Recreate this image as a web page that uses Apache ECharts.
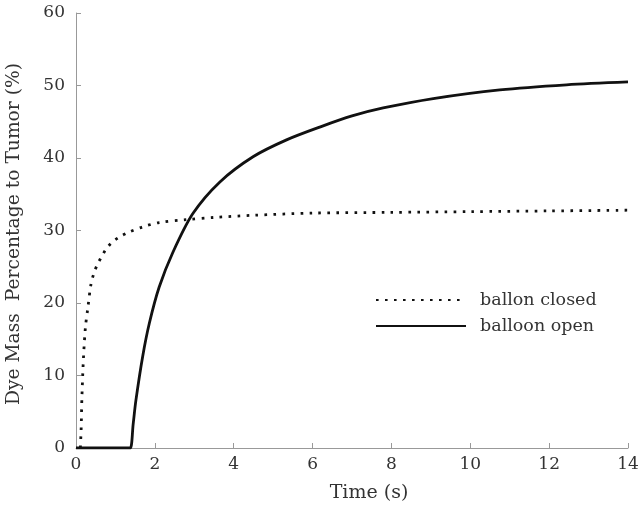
<!DOCTYPE html>
<html><head><meta charset="utf-8">
<script src="https://cdn.jsdelivr.net/npm/echarts@6/dist/echarts.min.js"></script>
<style>html,body{margin:0;padding:0;background:#fff}#c{width:641px;height:512px}</style>
</head><body><div id="c"></div>
<script>
const closedT = [0.11, 0.13, 0.15, 0.19, 0.24, 0.30, 0.38, 0.46, 0.55, 0.63, 0.76, 0.9, 1.1, 1.31, 1.69, 2.11, 2.79, 3.5, 4.5, 6.0, 8.0, 10.0, 12.0, 14.0];
const closedY = [0, 2.5, 7.0, 12.5, 16.7, 19.3, 22.6, 24.2, 25.4, 26.2, 27.4, 28.3, 29.1, 29.7, 30.5, 31.1, 31.5, 31.8, 32.1, 32.4, 32.5, 32.6, 32.7, 32.8];
const openT = [0, 1.3, 1.38, 1.45, 1.52, 1.69, 1.86, 2.11, 2.45, 2.96, 3.65, 4.5, 5.34, 6.2, 7.0, 7.79, 9.06, 10.75, 12.44, 14.0];
const openY = [0, 0, 0, 3.3, 6.6, 12.6, 17.2, 22.2, 26.9, 32.3, 36.7, 40.2, 42.5, 44.3, 45.8, 46.9, 48.2, 49.4, 50.1, 50.5];
const xTicks = [0, 2, 4, 6, 8, 10, 12, 14];
const yTicks = [0, 10, 20, 30, 40, 50, 60];
const seriesNames = ['ballon closed', 'balloon open'];
const xTitle = 'Time (s)';
const yTitle = 'Dye Mass  Percentage to Tumor (%)';

const font = 'DejaVu Serif';
const chart = echarts.init(document.getElementById('c'));
const axisCommon = {
  axisLine: {lineStyle: {color: '#999', width: 1}},
  axisTick: {inside: true, length: 5, lineStyle: {color: '#999'}},
  splitLine: {show: false},
  axisLabel: {color: '#333', fontFamily: font, fontSize: 17}
};
chart.setOption({
  animation: false,
  grid: {left: 76, right: 13, top: 13, bottom: 64, outerBoundsMode: 'none', containLabel: false},
  xAxis: Object.assign({}, axisCommon, {
    type: 'value', min: xTicks[0], max: xTicks[xTicks.length - 1], interval: 2,
    name: xTitle, nameLocation: 'middle', nameGap: 36,
    nameTextStyle: {color: '#333', fontFamily: font, fontSize: 19, padding: [0, 0, 0, 34]},
    axisLabel: Object.assign({}, axisCommon.axisLabel, {margin: 8})
  }),
  yAxis: Object.assign({}, axisCommon, {
    type: 'value', min: yTicks[0], max: yTicks[yTicks.length - 1], interval: 10,
    name: yTitle, nameLocation: 'middle', nameGap: 52,
    nameTextStyle: {color: '#333', fontFamily: font, fontSize: 18.7, padding: [0, 7, 0, 0]},
    axisLabel: Object.assign({}, axisCommon.axisLabel, {margin: 11})
  }),
  legend: {
    orient: 'vertical', left: 370, top: 286, itemWidth: 90, itemHeight: 14, itemGap: 8,
    itemStyle: {opacity: 0},
    textStyle: {color: '#333', fontFamily: font, fontSize: 17.5, padding: [0, 0, 0, 9]},
    data: seriesNames
  },
  series: [
    {
      name: seriesNames[0], type: 'line', symbol: 'none', smooth: 0.3,
      data: closedT.map((t, i) => [t, closedY[i]]),
      lineStyle: {color: '#111', width: 2.8, type: [2.6, 6.4], cap: 'butt'},
      itemStyle: {color: '#111'}
    },
    {
      name: seriesNames[1], type: 'line', symbol: 'none', smooth: 0.3,
      data: openT.map((t, i) => [t, openY[i]]),
      lineStyle: {color: '#111', width: 2.8},
      itemStyle: {color: '#111'}
    }
  ]
});
</script></body></html>
